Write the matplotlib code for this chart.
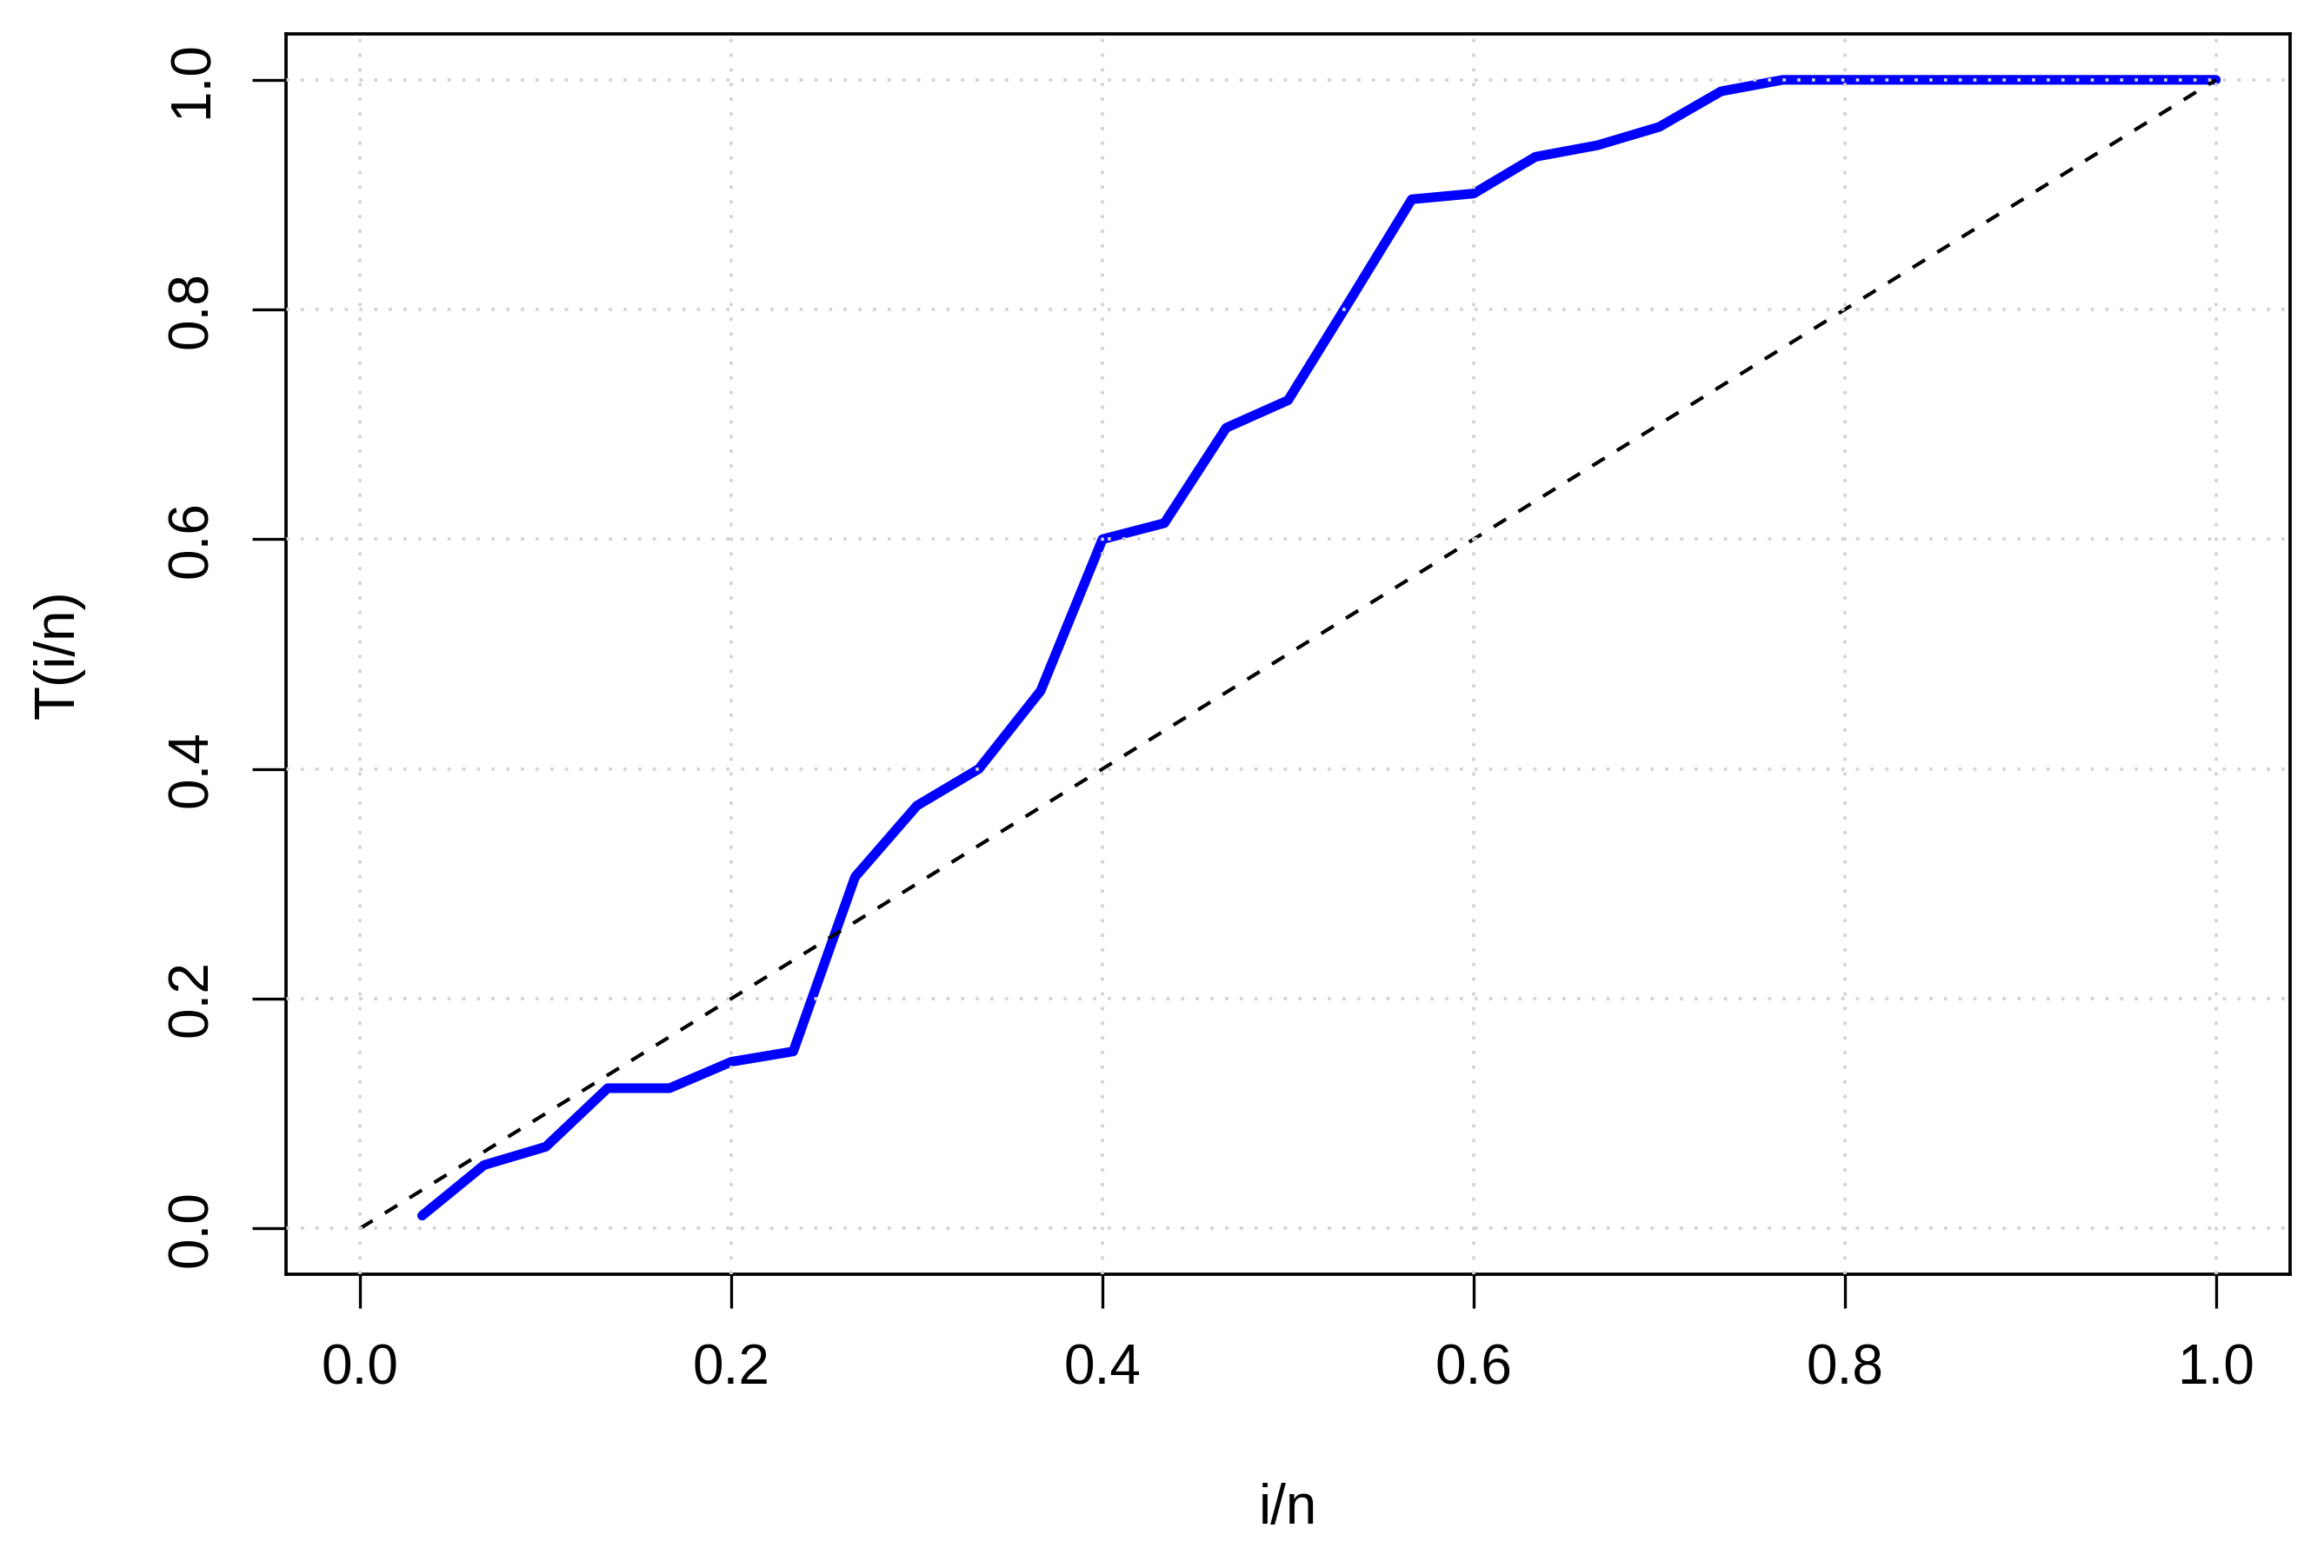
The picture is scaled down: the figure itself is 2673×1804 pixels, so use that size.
import numpy as np
import matplotlib
matplotlib.use('Agg')
import matplotlib.pyplot as plt

plt.rcParams['font.family'] = ['Liberation Sans', 'DejaVu Sans']

# i = 1..n, n = 30
i_vals = list(range(1, 31))
n = 30
T_vals = [0.011, 0.055, 0.071, 0.122, 0.122, 0.145, 0.154, 0.306, 0.368, 0.400,
          0.468, 0.600, 0.614, 0.697, 0.721, 0.808, 0.896, 0.901, 0.933, 0.943,
          0.959, 0.990, 1.000, 1.000, 1.000, 1.000, 1.000, 1.000, 1.000, 1.000]
ticks = [0.0, 0.2, 0.4, 0.6, 0.8, 1.0]
tick_labels = ['0.0', '0.2', '0.4', '0.6', '0.8', '1.0']

x = np.array(i_vals) / n

fig = plt.figure(figsize=(26.73, 18.04), dpi=100)
ax = fig.add_axes([329/2673, 1 - 1466/1804, (2634-329)/2673, (1466-39)/1804])

# the curve
ax.plot(x, T_vals, color='blue', lw=8, solid_capstyle='round', solid_joinstyle='round', zorder=2)
# diagonal reference
ax.plot([0, 1], [0, 1], color='black', lw=3, linestyle=(0, (4, 4)), zorder=2.1)

ax.set_xlim(-0.04, 1.04)
ax.set_ylim(-0.04, 1.04)
ax.set_xticks(ticks)
ax.set_xticklabels(tick_labels)
ax.set_yticks(ticks)
ax.set_yticklabels(tick_labels, rotation=90, va='center')

ax.grid(True, color='lightgray', linestyle=(0, (1, 3.5)), lw=2.7)
ax.set_axisbelow(False)

for s in ax.spines.values():
    s.set_linewidth(2.7)
ax.tick_params(axis='both', length=28, width=2.4, labelsize=46, direction='out')
ax.tick_params(axis='x', pad=29)
ax.tick_params(axis='y', pad=28)

ax.set_xlabel('i/n', fontsize=46, ha='center', va='center')
ax.set_ylabel('T(i/n)', fontsize=46, ha='center', va='center')
ax.xaxis.set_label_coords(0.5, (1466 - 1736) / 1427)
ax.yaxis.set_label_coords((68 - 329) / 2305, 0.5)

fig.savefig('out.png', dpi=100)
